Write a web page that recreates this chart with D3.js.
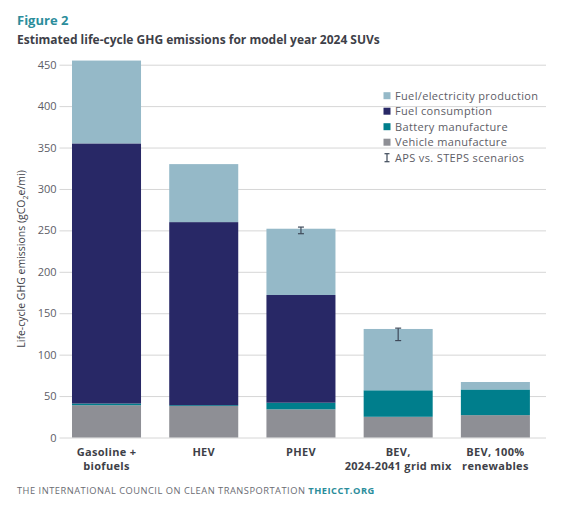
<!DOCTYPE html>
<html><head><meta charset="utf-8">
<script src="https://cdn.jsdelivr.net/npm/d3@7"></script>
<style>body{margin:0;background:#fff}svg{display:block}</style>
</head><body>
<script>
const categories = ["Gasoline + biofuels","HEV","PHEV","BEV, 2024-2041 grid mix","BEV, 100% renewables"];
const categoryLines = [["Gasoline +","biofuels"],["HEV"],["PHEV"],["BEV,","2024-2041 grid mix"],["BEV, 100%","renewables"]];
const seriesNames = ["Vehicle manufacture","Battery manufacture","Fuel consumption","Fuel/electricity production"];
const vehicleManufacture = [39, 38, 34, 25, 27];
const batteryManufacture = [2, 1, 8, 32, 31];
const fuelConsumption = [314, 221, 130, 0, 0];
const fuelProduction = [100, 70, 80, 74, 9];
const errorLow = [null, null, 246, 117, null];
const errorHigh = [null, null, 254, 132, null];
const yTicks = [0,50,100,150,200,250,300,350,400,450];
const colors = {"Vehicle manufacture":"#8e8f95","Battery manufacture":"#007e8c","Fuel consumption":"#282866","Fuel/electricity production":"#95b9c8"};

const W=564,H=511;
const svg=d3.select("body").append("svg").attr("width",W).attr("height",H);
const font="'Open Sans', sans-serif";

const x=d3.scaleBand().domain(categories).range([57.9,544]).paddingInner(0.29).paddingOuter(0.145);
const y=d3.scaleLinear().domain([0,450]).range([437.5,64.7]);

// title
svg.append("text").attr("x",17).attr("y",25).attr("font-family",font).attr("font-weight",700)
  .attr("font-size",13).attr("fill","#2b8d9b").text("Figure 2");
svg.append("text").attr("x",17).attr("y",44).attr("font-family",font).attr("font-weight",700)
  .attr("font-size",12).attr("fill","#3e3f48").text("Estimated life-cycle GHG emissions for model year 2024 SUVs");

// grid + axis
const yAxis=d3.axisLeft(y).tickValues(yTicks).tickSize(-(546-59.5)).tickPadding(3);
const ga=svg.append("g").attr("transform","translate(59.5,0)").call(yAxis);
ga.select(".domain").remove();
ga.selectAll(".tick line").attr("stroke","#d6d6d6").attr("stroke-width",1);
ga.selectAll(".tick text").attr("font-family",font).attr("font-size",11).attr("fill","#5d5d66");

// stacked bars
const rows=categories.map((c,i)=>({cat:c,"Vehicle manufacture":vehicleManufacture[i],"Battery manufacture":batteryManufacture[i],"Fuel consumption":fuelConsumption[i],"Fuel/electricity production":fuelProduction[i]}));
const stack=d3.stack().keys(seriesNames)(rows);
svg.append("g").selectAll("g").data(stack).join("g").attr("fill",d=>colors[d.key])
  .selectAll("rect").data(d=>d).join("rect")
  .attr("x",d=>x(d.data.cat)).attr("width",x.bandwidth())
  .attr("y",d=>y(d[1])).attr("height",d=>Math.max(0,y(d[0])-y(d[1])));

// error bars
const eg=svg.append("g").attr("stroke","#3f4a5a").attr("stroke-width",1.2);
categories.forEach((c,i)=>{
  if(errorLow[i]==null) return;
  const cx=x(c)+x.bandwidth()/2;
  eg.append("line").attr("x1",cx).attr("x2",cx).attr("y1",y(errorHigh[i])).attr("y2",y(errorLow[i]));
  eg.append("line").attr("x1",cx-3).attr("x2",cx+3).attr("y1",y(errorHigh[i])).attr("y2",y(errorHigh[i]));
  eg.append("line").attr("x1",cx-3).attr("x2",cx+3).attr("y1",y(errorLow[i])).attr("y2",y(errorLow[i]));
});

// x labels
categories.forEach((c,i)=>{
  const t=svg.append("text").attr("x",x(c)+x.bandwidth()/2).attr("y",456).attr("text-anchor","middle")
    .attr("font-family",font).attr("font-weight",700).attr("font-size",11).attr("letter-spacing",0.3).attr("fill","#3e3f48");
  categoryLines[i].forEach((l,j)=>t.append("tspan").attr("x",x(c)+x.bandwidth()/2).attr("dy",j?13.5:0).text(l));
});

// y label
svg.append("text").attr("transform","translate(25,259) rotate(-90)").attr("text-anchor","middle")
  .attr("font-family",font).attr("font-size",10.5).attr("fill","#3e3f48")
  .html('Life-cycle GHG emissions (gCO<tspan font-size="7" dy="3">2</tspan><tspan dy="-3">e/mi)</tspan>');

// legend
const legendItems=["Fuel/electricity production","Fuel consumption","Battery manufacture","Vehicle manufacture"];
const lg=svg.append("g");
legendItems.forEach((k,i)=>{
  const cy=95.7+i*15.5;
  lg.append("rect").attr("x",383.5).attr("y",cy-3.5).attr("width",7).attr("height",7).attr("fill",colors[k]);
  lg.append("text").attr("x",395).attr("y",cy+4).attr("font-family",font).attr("font-size",11).attr("letter-spacing",0.35).attr("fill","#5d5d66").text(k);
});
{
  const cy=95.7+4*15.5, cx=387;
  const g=lg.append("g").attr("stroke","#3f4a5a").attr("stroke-width",1.2);
  g.append("line").attr("x1",cx).attr("x2",cx).attr("y1",cy-4).attr("y2",cy+4);
  g.append("line").attr("x1",cx-2.5).attr("x2",cx+2.5).attr("y1",cy-4).attr("y2",cy-4);
  g.append("line").attr("x1",cx-2.5).attr("x2",cx+2.5).attr("y1",cy+4).attr("y2",cy+4);
  lg.append("text").attr("x",395).attr("y",cy+4).attr("font-family",font).attr("font-size",11).attr("letter-spacing",0.35).attr("fill","#5d5d66").text("APS vs. STEPS scenarios");
}

// footer
const ft=svg.append("text").attr("x",17).attr("y",494).attr("font-family",font).attr("font-size",9.3).attr("fill","#6a6b73").attr("letter-spacing",0.5);
ft.append("tspan").text("THE INTERNATIONAL COUNCIL ON CLEAN TRANSPORTATION ");
ft.append("tspan").attr("font-weight",700).attr("fill","#2b8d9b").text("THEICCT.ORG");
</script>
</body></html>
